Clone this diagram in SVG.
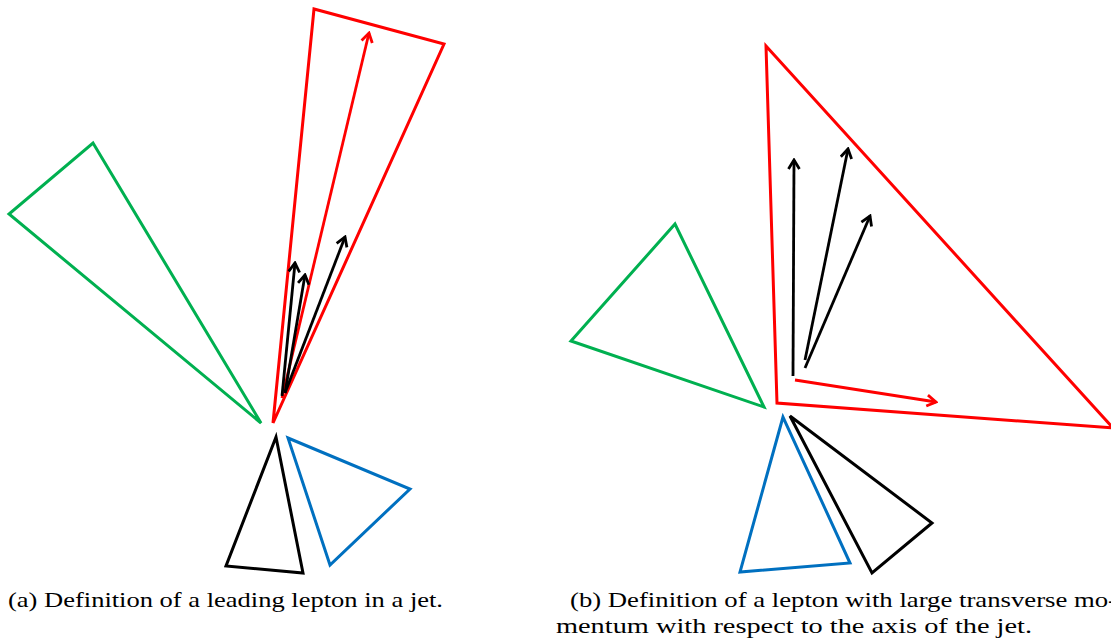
<svg xmlns="http://www.w3.org/2000/svg" width="1111" height="638" viewBox="0 0 1111 638">
<style>
.tri{fill:none;stroke-width:3;stroke-linejoin:miter}
.r{stroke:#FF0000}.g{stroke:#00B050}.b{stroke:#0070C0}.k{stroke:#000000}
.arr{fill:none;stroke-width:2.8}
.cap{font-family:"Liberation Serif","Times New Roman",serif;font-size:22px;fill:#000}
</style>
<defs>
<marker id="ak" viewBox="-11 -7 13 14" refX="0" refY="0" markerWidth="13" markerHeight="14" markerUnits="userSpaceOnUse" orient="auto">
<path d="M-9,-5.5 L0,0 L-9,5.5" fill="none" stroke="#000" stroke-width="2.8"/>
</marker>
<marker id="ar" viewBox="-11 -7 13 14" refX="0" refY="0" markerWidth="13" markerHeight="14" markerUnits="userSpaceOnUse" orient="auto">
<path d="M-9,-5.5 L0,0 L-9,5.5" fill="none" stroke="#FF0000" stroke-width="2.8"/>
</marker>
</defs>
<g id="panel-a">
<g id="a-red-jet"><polygon class="tri r" points="273,423 314,9 444,44"/></g>
<g id="a-green-jet"><polygon class="tri g" points="261,423 9,214 93,143"/></g>
<g id="a-black-jet"><polygon class="tri k" points="276,437 226,566 303,573"/></g>
<g id="a-blue-jet"><polygon class="tri b" points="288,438 410,489 330,565"/></g>
</g>
<g id="panel-b">
<g id="b-red-jet"><polygon class="tri r" points="766,46 777,403 1113,428"/></g>
<g id="b-green-jet"><polygon class="tri g" points="571,341 675,224 764,407"/></g>
<g id="b-blue-jet"><polygon class="tri b" points="783,417 740,572 850,563"/></g>
<g id="b-black-jet"><polygon class="tri k" points="790,416 932,523 872,573"/></g>
</g>
<g id="connectors">
<line class="arr r" x1="282" y1="398" x2="369" y2="33" marker-end="url(#ar)"/>
<line class="arr k" x1="282" y1="396" x2="295" y2="263" marker-end="url(#ak)"/>
<line class="arr k" x1="285" y1="393" x2="305" y2="275" marker-end="url(#ak)"/>
<line class="arr k" x1="285" y1="393" x2="345" y2="237" marker-end="url(#ak)"/>
<line class="arr r" x1="795" y1="380" x2="936" y2="402" marker-end="url(#ar)"/>
<line class="arr k" x1="793" y1="376" x2="794" y2="160" marker-end="url(#ak)"/>
<line class="arr k" x1="805" y1="360" x2="848" y2="149" marker-end="url(#ak)"/>
<line class="arr k" x1="805" y1="368" x2="870" y2="216" marker-end="url(#ak)"/>
</g>
<text class="cap" x="8" y="607" textLength="435" lengthAdjust="spacingAndGlyphs">(a) Definition of a leading lepton in a jet.</text>
<text class="cap" x="570" y="607" textLength="547" lengthAdjust="spacingAndGlyphs">(b) Definition of a lepton with large transverse mo-</text>
<text class="cap" x="556" y="633" textLength="476" lengthAdjust="spacingAndGlyphs">mentum with respect to the axis of the jet.</text>
</svg>
